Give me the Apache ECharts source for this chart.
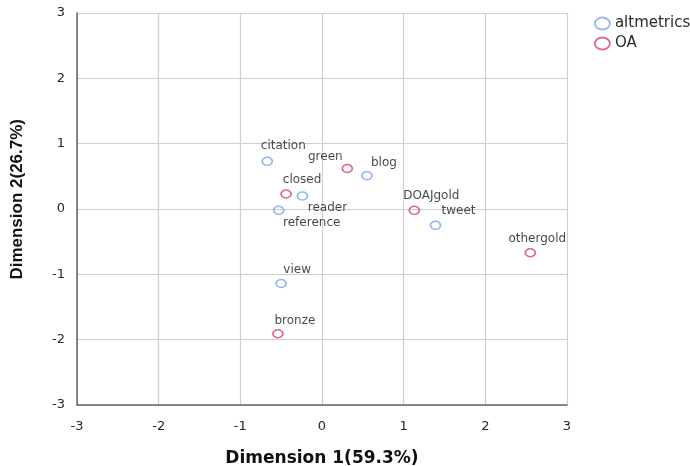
<!DOCTYPE html>
<html>
<head>
<meta charset="utf-8">
<script src="https://cdn.jsdelivr.net/npm/echarts@6/dist/echarts.min.js"></script>
<style>html,body{margin:0;padding:0;background:#fff}#c{width:690px;height:466px}</style>
</head>
<body>
<div id="c"></div>
<script>
// ---- data ----
const seriesNames = ['altmetrics', 'OA'];
const altNames = ['citation', 'blog', 'reader', 'reference', 'tweet', 'view'];
const altX = [-0.67, 0.55, -0.24, -0.53, 1.39, -0.50];
const altY = [0.73, 0.51, 0.20, -0.02, -0.25, -1.14];
const oaNames = ['green', 'closed', 'DOAJgold', 'othergold', 'bronze'];
const oaX = [0.31, -0.44, 1.13, 2.55, -0.54];
const oaY = [0.62, 0.23, -0.02, -0.67, -1.91];
const axisTicks = [-3, -2, -1, 0, 1, 2, 3];
const xTitle = 'Dimension 1(59.3%)';
const yTitle = 'Dimension 2(26.7%)';

// ---- label placement (style) ----
const labelOffsets = {
  citation: [16, -15], blog: [17, -13], reader: [25, 12], reference: [33, 13],
  tweet: [23, -14], view: [16, -14], green: [-22, -12], closed: [16, -14],
  DOAJgold: [17, -14], othergold: [7, -14], bronze: [17, -13]
};

const ell = 'path://M0,4a5,4 0 1,0 10,0a5,4 0 1,0 -10,0z';
const legEll = 'path://M0,6a7.5,6 0 1,0 15,0a7.5,6 0 1,0 -15,0z';
const blue = '#79a9e6';
const red = '#d8446a';

function build(names, xs, ys) {
  return names.map((n, i) => ({
    name: n,
    value: [xs[i], ys[i]],
    label: { offset: labelOffsets[n] }
  }));
}

const chart = echarts.init(document.getElementById('c'), null, { renderer: 'canvas' });
const labelStyle = {
  show: true, position: 'inside', formatter: '{b}',
  fontFamily: 'DejaVu Sans', fontSize: 12, color: '#161616',
  align: 'center', verticalAlign: 'middle'
};
chart.setOption({
  animation: false,
  grid: { left: 77, right: 123, top: 13, bottom: 61, containLabel: false, outerBoundsMode: 'none' },
  legend: {
    orient: 'vertical', left: 589, top: 11, itemGap: 5,
    itemWidth: 15, itemHeight: 12,
    textStyle: { fontFamily: 'DejaVu Sans', fontSize: 15, color: '#2a2a2a' },
    data: [
      { name: seriesNames[0], icon: legEll, itemStyle: { color: 'transparent', borderColor: blue, borderWidth: 1.8 } },
      { name: seriesNames[1], icon: legEll, itemStyle: { color: 'transparent', borderColor: red, borderWidth: 1.8 } }
    ]
  },
  xAxis: {
    type: 'value', min: axisTicks[0], max: axisTicks[axisTicks.length - 1], interval: 1,
    name: xTitle, nameLocation: 'middle', nameGap: 45,
    nameTextStyle: { fontFamily: 'DejaVu Sans', fontWeight: 'bold', fontSize: 17, color: '#111' },
    axisLine: { show: true, onZero: false, lineStyle: { color: '#666', width: 1.5 } },
    axisTick: { show: false },
    axisLabel: { margin: 15, fontFamily: 'DejaVu Sans', fontSize: 13, color: '#2a2a2a' },
    splitLine: { show: true, lineStyle: { color: '#cfcfcf', width: 1.2 } }
  },
  yAxis: {
    type: 'value', min: axisTicks[0], max: axisTicks[axisTicks.length - 1], interval: 1,
    axisLine: { show: true, onZero: false, lineStyle: { color: '#666', width: 1.5 } },
    axisTick: { show: false },
    axisLabel: { margin: 12, fontFamily: 'DejaVu Sans', fontSize: 13, color: '#2a2a2a' },
    splitLine: { show: true, lineStyle: { color: '#cfcfcf', width: 1.2 } }
  },
  graphic: [{
    type: 'text', left: 9, top: 119, rotation: Math.PI / 2,
    style: { text: yTitle, font: 'bold 17px "Liberation Sans", Arial, sans-serif', fill: '#111' }
  }],
  series: [
    {
      name: seriesNames[0], type: 'scatter', symbol: ell, symbolSize: [10, 8],
      itemStyle: { color: 'rgba(255,255,255,0)', borderColor: blue, borderWidth: 1.6 },
      label: labelStyle,
      data: build(altNames, altX, altY)
    },
    {
      name: seriesNames[1], type: 'scatter', symbol: ell, symbolSize: [10, 8],
      itemStyle: { color: 'rgba(255,255,255,0)', borderColor: red, borderWidth: 1.6 },
      label: labelStyle,
      data: build(oaNames, oaX, oaY)
    }
  ]
});
</script>
</body>
</html>
